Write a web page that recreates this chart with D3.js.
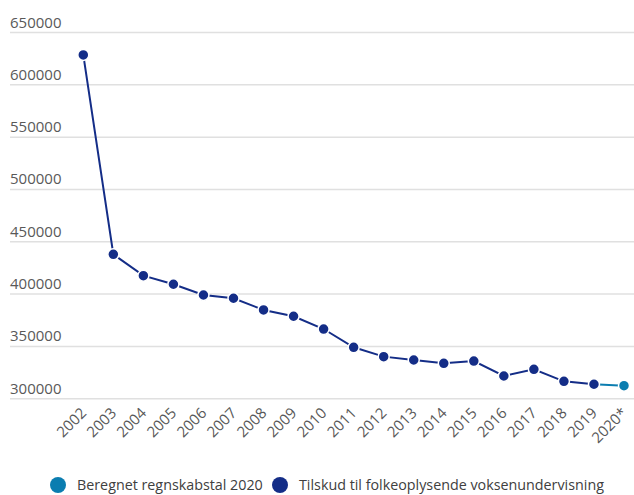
<!DOCTYPE html>
<html>
<head>
<meta charset="utf-8">
<script src="https://cdn.jsdelivr.net/npm/d3@7"></script>
<style>
  body { margin: 0; background: #fff; }
  text { font-family: "Open Sans", sans-serif; }
</style>
</head>
<body>
<div id="chart"></div>
<script>
const years = ["2002","2003","2004","2005","2006","2007","2008","2009","2010","2011",
  "2012","2013","2014","2015","2016","2017","2018","2019","2020*"];
const tilskud = [628600, 438000, 417600, 409400, 399100, 396000, 384800, 378800, 366600,
  349100, 340200, 337000, 333800, 336000, 321700, 328100, 316600, 313800];
const beregnet = [["2019", 313800], ["2020*", 312400]];
const yTicks = [300000, 350000, 400000, 450000, 500000, 550000, 600000, 650000];
const legendItems = [
  { name: "Beregnet regnskabstal 2020", color: "#0b7db0" },
  { name: "Tilskud til folkeoplysende voksenundervisning", color: "#142d87" }
];

const width = 634, height = 495;
const svg = d3.select("#chart").append("svg")
  .attr("width", width).attr("height", height);

const x = d3.scalePoint().domain(years).range([83.3, 624]);
const y = d3.scaleLinear().domain([300000, 650000]).range([398.7, 32.5]);

// gridlines + labels
const grid = svg.append("g");
grid.selectAll("line").data(yTicks).join("line")
  .attr("x1", 10).attr("x2", width)
  .attr("y1", d => y(d)).attr("y2", d => y(d))
  .attr("stroke", "#e0e0e0").attr("stroke-width", 1.5);
grid.selectAll("text").data(yTicks).join("text")
  .attr("x", 10).attr("y", d => y(d) - 5)
  .attr("fill", "#595959").style("font-size", "15px")
  .text(d => d);

// x labels
svg.append("g").selectAll("text").data(years).join("text")
  .attr("transform", d => `translate(${x(d) + 4},${414}) rotate(-45)`)
  .attr("text-anchor", "end")
  .attr("fill", "#595959").style("font-size", "15px")
  .text(d => d);

const line = d3.line().x(d => x(d[0])).y(d => y(d[1]));
const mainData = tilskud.map((v, i) => [years[i], v]);

svg.append("path").datum(beregnet).attr("d", line)
  .attr("fill", "none").attr("stroke", legendItems[0].color).attr("stroke-width", 2);
svg.append("path").datum(mainData).attr("d", line)
  .attr("fill", "none").attr("stroke", legendItems[1].color).attr("stroke-width", 2);

svg.append("g").selectAll("circle").data(mainData).join("circle")
  .attr("cx", d => x(d[0])).attr("cy", d => y(d[1])).attr("r", 5.5)
  .attr("fill", legendItems[1].color).attr("stroke", "#fff").attr("stroke-width", 1.5);
svg.append("circle")
  .attr("cx", x(beregnet[1][0])).attr("cy", y(beregnet[1][1])).attr("r", 5.5)
  .attr("fill", legendItems[0].color).attr("stroke", "#fff").attr("stroke-width", 1.5);

// legend
const legend = svg.append("g").attr("transform", "translate(0,485)");
const lx = [58, 280];
legendItems.forEach((d, i) => {
  legend.append("circle").attr("cx", lx[i]).attr("cy", 0).attr("r", 8).attr("fill", d.color);
  legend.append("text").attr("x", lx[i] + 19).attr("y", 0).attr("dy", "0.35em")
    .attr("fill", "#404040").style("font-size", "14.3px").text(d.name);
});
</script>
</body>
</html>
